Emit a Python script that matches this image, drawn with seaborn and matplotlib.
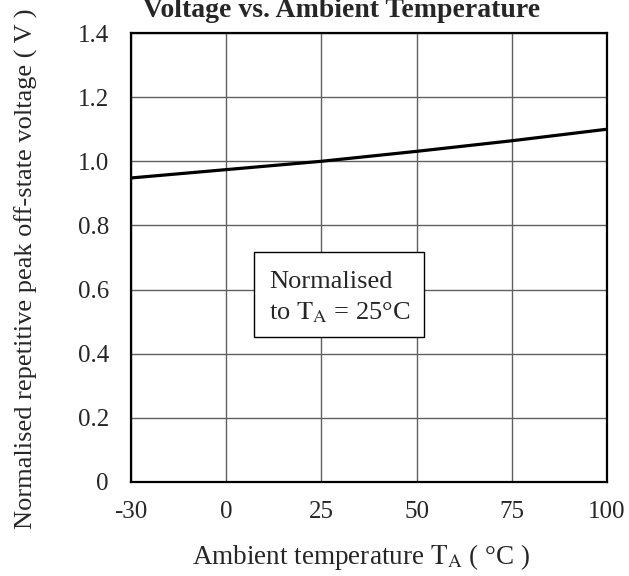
import numpy as np
import pandas as pd
import matplotlib
matplotlib.use("Agg")
import matplotlib.pyplot as plt
import matplotlib.patches as mpatches
import seaborn as sns

# curve
temp = [-30, -15, 0, 25, 50, 75, 100]
volt = [0.948, 0.961, 0.974, 1.000, 1.031, 1.064, 1.100]

x_ticks = [-30, 0, 25, 50, 75, 100]
y_ticks = [0, 0.2, 0.4, 0.6, 0.8, 1.0, 1.2, 1.4]
y_labels = ["0", "0.2", "0.4", "0.6", "0.8", "1.0", "1.2", "1.4"]

df = pd.DataFrame({"T": temp, "V": volt})

sns.set_style("white")
plt.rcParams['font.family'] = ['Liberation Serif', 'DejaVu Serif']
plt.rcParams['mathtext.fontset'] = 'stix'


# the x axis has -30 one grid step left of 0 (same spacing as 25)
def fwd(x):
    x = np.asarray(x, dtype=float)
    return np.where(x < 0, x * 25.0 / 30.0, x)


def inv(x):
    x = np.asarray(x, dtype=float)
    return np.where(x < 0, x * 30.0 / 25.0, x)


fig = plt.figure(figsize=(6.29, 5.76), dpi=100)
ax = fig.add_axes([131 / 629, 1 - 482 / 576, (607 - 131) / 629, (482 - 33) / 576])
ax.set_xscale('function', functions=(fwd, inv))

sns.lineplot(data=df, x="T", y="V", ax=ax, color="black", linewidth=2.3, zorder=3)

ax.set_xlim(-30, 100)
ax.set_ylim(0, 1.4)
ax.set_xticks(x_ticks)
ax.set_xticklabels([str(t) for t in x_ticks])
ax.set_yticks(y_ticks)
ax.set_yticklabels(y_labels)
ax.tick_params(length=0, labelsize=18)
ax.tick_params(axis='y', pad=16)
ax.tick_params(axis='x', pad=14)
ax.grid(True, color="#606060", linewidth=1.0)

for s in ax.spines.values():
    s.set_visible(True)
    s.set_color("black")
    s.set_linewidth(1.6)

ax.set_xlabel(r"Ambient temperature $\mathrm{T_A}$ ( °C )", fontsize=19.5)
ax.xaxis.label.set_va("baseline")
ax.xaxis.set_label_coords(0.484, -(564 - 482) / 449)
ax.set_ylabel("Normalised repetitive peak off-state voltage ( V )", fontsize=19)
ax.yaxis.set_label_coords(-0.195, 0.474)

# note box
ax.add_patch(mpatches.Rectangle((0.258, 0.323), 0.358, 0.189, transform=ax.transAxes,
                                facecolor="white", edgecolor="black", linewidth=1.0, zorder=5))
ax.text(0.290, (482 - 288) / 449, "Normalised", transform=ax.transAxes,
        fontsize=19, va="baseline", ha="left", zorder=6)
ax.text(0.290, (482 - 319) / 449, "to $\\mathrm{T_A}$ = 25°C", transform=ax.transAxes,
        fontsize=19, va="baseline", ha="left", zorder=6)

fig.text(341.5 / 629, 1.0 - 17 / 576, "Voltage vs. Ambient Temperature", fontsize=20,
         fontweight="bold", ha="center", va="baseline")

fig.savefig("out.png", dpi=100)
